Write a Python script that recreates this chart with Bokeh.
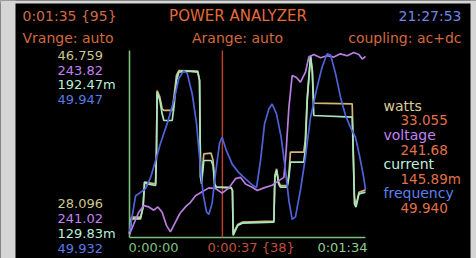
from bokeh.plotting import figure
from bokeh.models import Range1d, Label, BoxAnnotation, GlobalInlineStyleSheet
from bokeh.embed import file_html
from bokeh.resources import INLINE

# ---------------- data ----------------
series_names = ["watts", "voltage", "current", "frequency"]

watts_t = [0, 0.8, 4.4, 5.4, 6.0, 10.4, 10.75, 11.0, 12.1, 13.0, 13.7, 17.0, 17.7, 18.7, 19.65,
           27.2, 27.9, 28.3, 28.7, 29.6, 32.5, 33.3, 33.9, 34.5, 40.5, 41.0, 41.3, 42.2, 43.1,
           44.9, 57.5, 57.9, 58.6, 59.4, 60.1, 62.8, 63.5, 64.1, 69.4, 70.0, 70.8, 72.1, 72.8,
           73.4, 88.7, 89.1, 89.6, 90.2, 91.4, 94.0]
watts = [28.37, 30.06, 30.06, 31.07, 33.61, 33.44, 36.82, 42.90, 42.23, 41.05, 40.88, 40.88, 42.23,
         44.43, 44.93, 44.87, 43.92, 34.11, 33.78, 36.48, 36.55, 35.81, 33.44, 33.10, 33.07, 32.76,
         28.37, 28.87, 29.31, 29.55, 29.65, 34.28, 34.96, 33.61, 33.27, 33.27, 34.45, 36.65, 36.65,
         37.83, 42.23, 46.29, 44.93, 41.62, 41.55, 36.82, 32.09, 31.24, 32.59, 32.83]

current_t = [0, 0.8, 4.4, 5.4, 6.0, 7.0, 10.4, 10.75, 11.0, 12.1, 13.0, 13.7, 17.0, 17.7, 18.7,
             19.65, 23.0, 27.2, 27.9, 28.3, 28.7, 29.6, 32.5, 33.3, 33.9, 34.5, 40.5, 41.0, 41.3,
             42.2, 43.1, 44.9, 57.5, 57.9, 58.6, 59.4, 60.1, 62.8, 63.5, 64.1, 69.4, 70.0, 70.8,
             72.1, 72.8, 73.4, 88.7, 89.1, 89.6, 90.2, 91.4, 94.0]
current_ma = [130.74, 135.84, 135.84, 139.82, 148.33, 147.76, 147.19, 159.11, 178.97, 176.13, 171.59,
              169.32, 169.32, 173.86, 182.94, 185.78, 186.12, 185.78, 182.94, 150.03, 147.76, 155.70,
              155.70, 154.00, 147.76, 146.63, 146.40, 145.49, 130.17, 131.87, 133.57, 134.37, 134.71,
              150.03, 152.30, 147.76, 146.63, 146.63, 150.03, 155.14, 155.14, 159.11, 176.13, 191.45,
              186.34, 171.02, 170.46, 159.11, 140.95, 139.82, 144.36, 144.92]

voltage_t = [0, 1.7, 3.7, 5.7, 7.7, 9.7, 11.3, 13.0, 14.7, 16.3, 17.9, 20.05, 22.3, 24.3, 26.3, 28.9,
             31.6, 34.25, 36.9, 39.6, 42.2, 44.2, 46.2, 48.9, 50.85, 53.5, 56.8, 59.5, 61.5, 62.4,
             63.5, 64.8, 66.5, 68.1, 70.1, 71.4, 73.4, 76.1, 78.7, 81.4, 84.0, 86.7, 89.35, 91.35,
             92.7, 94.0]
voltage = [241.05, 241.21, 241.39, 241.49, 241.47, 241.42, 241.47, 241.39, 241.19, 241.09, 241.21,
           241.37, 241.47, 241.54, 241.64, 241.70, 241.76, 241.75, 241.68, 241.76, 241.90, 241.92,
           241.82, 241.77, 241.72, 241.76, 241.80, 241.87, 241.92, 242.33, 242.99, 243.47, 243.44,
           243.37, 243.52, 243.75, 243.79, 243.74, 243.77, 243.75, 243.80, 243.77, 243.82, 243.79,
           243.72, 243.76]

freq_t = [0, 1.1, 2.4, 4.4, 6.4, 8.4, 10.4, 12.35, 15.0, 17.7, 19.65, 21.6, 23.0, 25.0, 26.7, 28.0,
          29.3, 30.7, 31.6, 32.9, 34.25, 35.85, 36.9, 38.6, 40.9, 43.55, 46.2, 48.9, 50.6, 52.2,
          53.8, 55.5, 56.8, 58.55, 60.4, 62.1, 63.5, 64.8, 66.1, 68.1, 70.1, 72.1, 74.75, 76.7,
          78.7, 80.1, 82.05, 84.0, 86.0, 88.0, 90.0, 91.7, 93.3, 94.0]
freq = [49.9324, 49.9337, 49.9353, 49.9356, 49.9359, 49.9368, 49.9382, 49.9396, 49.9412, 49.9431,
        49.9449, 49.9455, 49.9453, 49.9436, 49.9412, 49.9382, 49.9355, 49.9340, 49.9338, 49.9347,
        49.9371, 49.9396, 49.9401, 49.9390, 49.9379, 49.9372, 49.9367, 49.9362, 49.9360, 49.9382,
        49.9412, 49.9424, 49.9428, 49.9420, 49.9401, 49.9374, 49.9349, 49.9334, 49.9336, 49.9358,
        49.9385, 49.9417, 49.9442, 49.9458, 49.9469, 49.9468, 49.9453, 49.9434, 49.9419, 49.9409,
        49.9401, 49.9385, 49.9368, 49.9358]

watts_lim = [28.096, 46.759]
voltage_lim = [241.02, 243.82]
current_lim = [129.83, 192.47]
freq_lim = [49.932, 49.947]
time_lim = [0, 94]
cursor_t = 37
cursor_idx = 38
cursor_readout = ["33.055", "241.68", "145.89m", "49.940"]
time_labels = ["0:00:00", "0:00:37 {38}", "0:01:34"]
header_left = ["0:01:35 {95}", "Vrange: auto"]
header_mid = ["POWER ANALYZER", "Arange: auto"]
header_right = ["21:27:53", "coupling: ac+dc"]

# ---------------- layout / style ----------------
W, H = 476, 258
PX_L, PX_R = 129, 365      # plot area (pixels)
PY_B, PY_T = 21, 208       # axis lines
DY_B, DY_T = 22, 206       # min / max of each trace
FONT = "DejaVu Sans"
BG = "#d5d5d5"

c_watts = "#d4b577"
c_volt = "#b87ee0"
c_curr = "#a8e6c0"
c_freq = "#4f63d8"
c_axis = "#7cc07c"

p = figure(width=W, height=H, output_backend="svg", toolbar_location=None,
           x_range=Range1d(0, W), y_range=Range1d(0, H),
           x_axis_location=None, y_axis_location=None, min_border=0)
p.grid.visible = False
p.outline_line_color = None
p.background_fill_color = "black"
p.border_fill_color = BG
p.stylesheets = [GlobalInlineStyleSheet(
    css="html, body { background: %s !important; margin: 0 !important; padding: 0 !important; overflow: hidden; }" % BG)]

# light page strips around the black panel
for l, r, b, t in [(0, 15, 0, H), (470, W, 0, H), (0, W, 255, H)]:
    p.add_layout(BoxAnnotation(left=l, right=r, bottom=b, top=t, fill_color=BG, fill_alpha=1,
                               line_color=None, level="overlay"))

tper = (time_lim[1] - time_lim[0]) / (PX_R - PX_L)
p.extra_x_ranges = {"time": Range1d(time_lim[0] - PX_L * tper, time_lim[1] + (W - PX_R) * tper)}

def yrange(lim):
    per = (lim[1] - lim[0]) / (DY_T - DY_B)
    return Range1d(lim[0] - DY_B * per, lim[1] + (H - DY_T) * per)

p.extra_y_ranges = {"watts": yrange(watts_lim), "voltage": yrange(voltage_lim),
                    "current": yrange(current_lim), "frequency": yrange(freq_lim)}

# axes and cursor
p.segment(x0=[time_lim[0]], x1=[time_lim[0]], y0=[PY_B], y1=[PY_T], x_range_name="time",
          line_color=c_axis, line_width=1.6)
p.segment(x0=[time_lim[0]], x1=[time_lim[1]], y0=[PY_B], y1=[PY_B], x_range_name="time",
          line_color=c_axis, line_width=1.6)
p.segment(x0=[cursor_t], x1=[cursor_t], y0=[PY_B], y1=[PY_T], x_range_name="time",
          line_color="#c0402c", line_width=1.4)

lw = 1.7
p.line(watts_t, watts, x_range_name="time", y_range_name="watts", line_color=c_watts, line_width=lw)
p.line(current_t, current_ma, x_range_name="time", y_range_name="current", line_color=c_curr, line_width=lw)
p.line(voltage_t, voltage, x_range_name="time", y_range_name="voltage", line_color=c_volt, line_width=lw)
p.line(freq_t, freq, x_range_name="time", y_range_name="frequency", line_color=c_freq, line_width=lw)

def lab(x, y, text, color, size="14px", align="left"):
    p.add_layout(Label(x=x, y=y, text=text, text_color=color, text_font=FONT,
                       text_font_size=size, text_baseline="middle", text_align=align))

# header
lab(22, 243, header_left[0], "#cf6a48")
lab(237.5, 243, header_mid[0], "#e46a3a", size="15px", align="center")
lab(461, 243, header_right[0], "#6f86e6", align="right")
lab(22, 221, header_left[1], "#d6683c")
lab(237, 221, header_mid[1], "#d6683c", align="center")
lab(461, 221, header_right[1], "#d6683c", align="right")

# scale labels
lim_cols = ["#cdc58e", "#c283f0", "#b8f0d6", "#5a7ae8"]
tops = [f"{watts_lim[1]:.3f}", f"{voltage_lim[1]:.2f}", f"{current_lim[1]:.2f}m", f"{freq_lim[1]:.3f}"]
bots = [f"{watts_lim[0]:.3f}", f"{voltage_lim[0]:.2f}", f"{current_lim[0]:.2f}m", f"{freq_lim[0]:.3f}"]
for i, (t, c) in enumerate(zip(tops, lim_cols)):
    lab(57, 203 - i * 14.7, t, c, size="13px")
for i, (t, c) in enumerate(zip(bots, lim_cols)):
    lab(57, 55 - i * 15, t, c, size="13px")

# right readout
name_cols = ["#dccb9c", "#c283f0", "#bff0dc", "#5f80f0"]
for i, (nm, val, c) in enumerate(zip(series_names, cursor_readout, name_cols)):
    y0 = 153 - i * 29.3
    lab(383, y0, nm, c, size="14px")
    lab(400, y0 - 14.7, val, "#e0704a", size="13.5px")

# time labels
lab(128, 11, time_labels[0], "#7cc07c", size="13px")
lab(207, 11, time_labels[1], "#c0503c", size="13px")
lab(367, 11, time_labels[2], "#8cd08c", size="13px", align="right")

open("out.html", "w").write(file_html(p, INLINE))
